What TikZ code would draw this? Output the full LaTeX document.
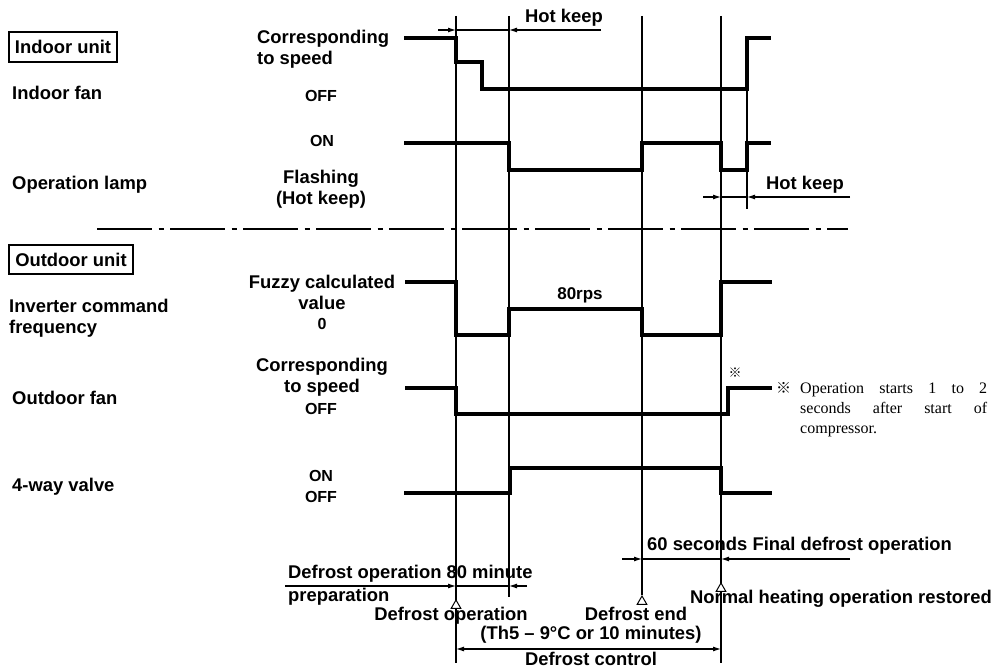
\documentclass[tikz,border=0pt]{standalone}
\usepackage{fontspec}
\setmainfont{Liberation Serif}
\setsansfont{Liberation Sans}
\newfontfamily\refmarkfont{Noto Sans CJK JP}
\usetikzlibrary{arrows.meta, calc, shapes.geometric}
\definecolor{tcInk}{HTML}{000000}
\newcommand{\lblsize}{\fontsize{18.4}{21}\selectfont}
\newcommand{\lvlsize}{\fontsize{16}{19}\selectfont}
\tikzset{
  lbl/.style={font=\sffamily\bfseries\lblsize, text=tcInk, inner sep=0pt},
  lvl/.style={font=\sffamily\bfseries\lvlsize, text=tcInk, inner sep=0pt},
  unitbox/.style={lbl, draw=tcInk, line width=1.4pt, inner sep=0pt},
  sig/.style={line width=3.3pt, draw=tcInk, line join=miter},
  tline/.style={line width=1.1pt, draw=tcInk},
  dim/.style={-{Latex[length=8pt, width=5pt]}, line width=1.1pt, draw=tcInk},
  dimboth/.style={{Latex[length=8pt, width=5pt]}-{Latex[length=8pt, width=5pt]}, line width=1.1pt, draw=tcInk},
  evmark/.style={regular polygon, regular polygon sides=3, draw=tcInk, fill=white,
    line width=1pt, minimum size=11pt, inner sep=0pt, anchor=corner 1},
  split/.style={line width=1.4pt, draw=tcInk, dash pattern=on 55pt off 6.5pt on 5pt off 6.5pt},
  note/.style={font=\fontsize{16}{20}\selectfont, text=tcInk, inner sep=0pt},
}

\begin{document}
\begin{tikzpicture}[x=1pt, y=-1pt]
  \useasboundingbox (0,0) rectangle (997,668);

  % time lines
  \coordinate (tA) at (456,16);
  \coordinate (tB) at (509,16);
  \coordinate (tC) at (642,16);
  \coordinate (tD) at (721,16);
  \coordinate (tE) at (747,89);
  \draw[tline] (tA) -- (456,663);
  \draw[tline] (tB) -- (509,597);
  \draw[tline] (tD) -- (721,663);
  \draw[tline] (tE) -- (747,209);
  \node[evmark] (evOp)   at (456,599) {};
  \node[evmark] (evEnd)  at (642,595) {};
  \node[evmark] (evNorm) at (721,582) {};
  \draw[tline] (tC) -- (evEnd.corner 1);

  % Indoor unit
  \node[unitbox, minimum width=108pt, minimum height=30pt] (indoor) at (63,47) {Indoor unit};
  \node[lbl, anchor=base west] (fanlbl)  at (12,100) {Indoor fan};
  \node[lbl, anchor=base west] (lamplbl) at (12,190) {Operation lamp};
  \node[lbl, anchor=base west, align=left] (fanhi) at (257,65) {Corresponding\\to speed};
  \node[lvl, anchor=base] (fanoff) at (321,102) {OFF};
  \node[lvl, anchor=base] (lampon) at (322,147) {ON};
  \node[lbl, anchor=base, align=center] (lampfl) at (321,205) {Flashing\\(Hot keep)};
  \draw[sig] (404,38) -- (456,38) -- (456,62) -- (482,62) -- (482,89) -- (747,89)
    -- (747,38) -- (771,38);
  \draw[sig] (404,143) -- (509,143) -- (509,170) -- (642,170) -- (642,143) -- (721,143)
    -- (721,170) -- (747,170) -- (747,143) -- (771,143);

  % hot keep arrows
  \coordinate (hkA) at (438,30);
  \coordinate (hkB) at (601,30);
  \draw[tline] (tA |- hkA) -- (tB |- hkA);
  \draw[dim] (hkA) -- (tA |- hkA);
  \draw[dim] (hkB) -- (tB |- hkA);
  \node[lbl, anchor=base west] (hkup) at (525,23) {Hot keep};
  \coordinate (hkC) at (703,197);
  \coordinate (hkD) at (850,197);
  \draw[tline] (tD |- hkC) -- (tE |- hkC);
  \draw[dim] (hkC) -- (tD |- hkC);
  \draw[dim] (hkD) -- (tE |- hkC);
  \node[lbl, anchor=base west] (hkdown) at (766,190) {Hot keep};

  \coordinate (sepL) at (97,229);
  \coordinate (sepR) at (848,229);
  \draw[split] (sepL) -- (sepR);

  % Outdoor unit
  \node[unitbox, minimum width=124pt, minimum height=29pt] (outdoor) at (71,259.5) {Outdoor unit};
  \node[lbl, anchor=base west, align=left] (invlbl) at (9,334) {Inverter command\\frequency};
  \node[lbl, anchor=base west] (ofanlbl)  at (12,405) {Outdoor fan};
  \node[lbl, anchor=base west] (valvelbl) at (12,492) {4-way valve};
  \node[lbl, anchor=base, align=center] (invhi) at (322,310) {Fuzzy calculated\\value};
  \node[lvl, anchor=base] (invzero) at (322,330) {0};
  \node[lbl, anchor=base, align=center] (ofanhi) at (322,393) {Corresponding\\to speed};
  \node[lvl, anchor=base] (ofanoff)  at (321,415) {OFF};
  \node[lvl, anchor=base] (valveon)  at (321,482) {ON};
  \node[lvl, anchor=base] (valveoff) at (321,503) {OFF};
  \node[lbl, font=\sffamily\bfseries\fontsize{17}{20}\selectfont, anchor=base] (rps) at (580,300) {80rps};
  \draw[sig] (405,282) -- (456,282) -- (456,335) -- (509,335) -- (509,309) -- (642,309)
    -- (642,335) -- (721,335) -- (721,282) -- (772,282);
  \draw[sig] (405,388) -- (456,388) -- (456,414) -- (728,414) -- (728,388) -- (772,388);
  \draw[sig] (404,493) -- (510,493) -- (510,468) -- (721,468) -- (721,493) -- (772,493);
  \node[note, font=\refmarkfont\fontsize{13}{13}\selectfont] (ofanmark) at (735,373) {※};
  \node[note, font=\refmarkfont\fontsize{15}{15}\selectfont, anchor=base west] (notemark) at (776,394) {※};
  \node[note, anchor=base west, align=left] (notetxt) at (800,434)
    {\makebox[187pt][s]{Operation starts 1 to 2}\\\makebox[187pt][s]{seconds after start of}\\compressor.};

  % bottom annotations
  \coordinate (prA) at (285,586);
  \coordinate (prB) at (527,586);
  \draw[tline] (tA |- prA) -- (tB |- prA);
  \draw[dim] (prA) -- (tA |- prA);
  \draw[dim] (prB) -- (tB |- prA);
  \node[lbl, anchor=base west, align=left] (prep) at (288,601) {Defrost operation 80 minute\\[2pt]preparation};
  \coordinate (fnA) at (622,559);
  \coordinate (fnB) at (850,559);
  \draw[tline] (tC |- fnA) -- (tD |- fnA);
  \draw[dim] (fnA) -- (tC |- fnA);
  \draw[dim] (fnB) -- (tD |- fnA);
  \node[lbl, anchor=base west] (final) at (647,550) {60 seconds Final defrost operation};
  \node[lbl, anchor=base] (dfop)   at (451,620) {Defrost operation};
  \node[lbl, anchor=base] (dfend)  at (636,620) {Defrost end};
  \node[lbl, anchor=base west] (normal) at (690,603) {Normal heating operation restored};
  \node[lbl, anchor=base] (dfcond) at (591,639) {(Th5 – 9°C or 10 minutes)};
  \coordinate (ctl) at (0,649);
  \draw[dimboth] (tA |- ctl) -- (tD |- ctl);
  \node[lbl, anchor=base] (dfctl) at (591,665) {Defrost control};
\end{tikzpicture}
\end{document}
